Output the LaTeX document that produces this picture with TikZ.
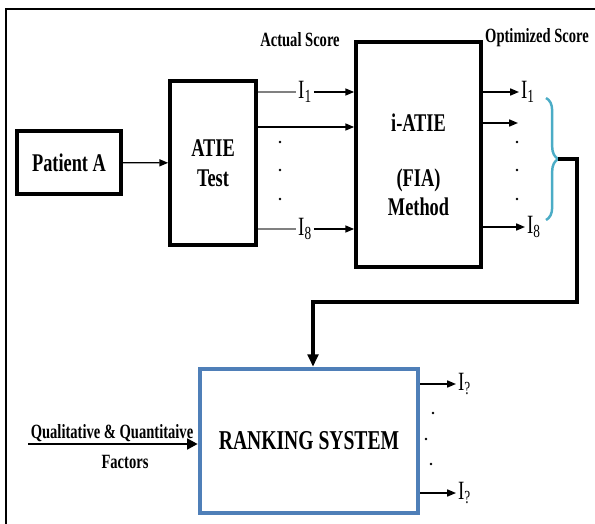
\documentclass[tikz,border=0pt]{standalone}
\usepackage{fontspec}
\usepackage{graphicx}
\setmainfont{Liberation Serif}
\newcommand{\cnd}[1]{\scalebox{0.72}[1]{#1}}
\usetikzlibrary{arrows.meta,positioning,calc,decorations.pathreplacing}
\definecolor{rankblue}{HTML}{4F7FB8}
\definecolor{bracecol}{HTML}{4BACC6}

\begin{document}
\begin{tikzpicture}[x=0.02cm,y=-0.02cm,
  blk/.style={draw,line width=2.1pt,font=\fontsize{14.5}{17}\selectfont\bfseries,align=center,inner sep=0pt},
  lbl/.style={font=\fontsize{11.5}{13}\selectfont\bfseries,inner sep=1pt},
  idx/.style={font=\fontsize{15}{16}\selectfont,inner sep=1pt},
  arr/.style={-{Triangle[length=5pt,width=4pt]},line width=0.75pt}]
\useasboundingbox (0,0) rectangle (595,524);
\draw[line width=0.9pt] (6,524) -- (6,9) -- (595,9);

% blocks
\node[blk,minimum width=2.08cm,minimum height=1.26cm] (pat) at (69,162.5) {\cnd{Patient A}};
\node[blk,minimum width=1.72cm,minimum height=3.28cm] (atie) at (213,163) {\cnd{ATIE}\\\cnd{Test}};
\node[blk,minimum width=2.5cm,minimum height=4.5cm] (fia) at (418.5,154.5) {\rule{0pt}{22pt}\cnd{i-ATIE}\\[14pt]\cnd{(FIA)}\\\cnd{Method}};
\node[blk,draw=rankblue,line width=2.6pt,minimum width=4.36cm,minimum height=2.88cm,font=\fontsize{15.5}{18}\selectfont\bfseries] (rank) at (309,441) {\cnd{RANKING SYSTEM}};

\node[lbl] (act) at (300,40) {\cnd{Actual Score}};
\node[lbl] (opt) at (537,38) {\cnd{Optimized Score}};

\draw[arr] (pat) -- (atie);

% actual scores
\node[idx] (in1) at (305,92) {\cnd{I\textsubscript{1}}};
\node[idx] (in8) at (305,229) {\cnd{I\textsubscript{8}}};
\coordinate (mid) at (300,127);
\draw[gray,line width=0.75pt] (atie.east |- in1) -- (in1.west);
\draw[arr] (in1.east) -- (fia.west |- in1);
\draw[arr] (atie.east |- mid) -- (fia.west |- mid);
\draw[gray,line width=0.75pt] (atie.east |- in8) -- (in8.west);
\draw[arr] (in8.east) -- (fia.west |- in8);
\foreach \y in {142,170,199} \fill (280,\y) circle (0.8pt);

% optimized scores
\node[idx,anchor=west] (out1) at (519,92) {\cnd{I\textsubscript{1}}};
\node[idx,anchor=west] (out8) at (525,227) {\cnd{I\textsubscript{8}}};
\coordinate (omid) at (518,123);
\draw[arr] (fia.east |- out1) -- (out1.west);
\draw[arr] (fia.east |- omid) -- (omid);
\draw[arr] (fia.east |- out8) -- (out8.west);
\foreach \y in {142,170,199} \fill (517,\y) circle (0.8pt);

\draw[bracecol,line width=1.4pt,decorate,decoration={brace,amplitude=7pt}] (546,98) -- (546,220);
\coordinate (tip) at (558,159);
\coordinate (turn) at (577,302);
\coordinate (drop) at (313,302);
\draw[-{Triangle[length=7pt,width=6pt]},line width=2.2pt] (tip) -| (turn) -- (drop) -- (drop |- rank.north);

% ranking
\coordinate (qin) at (28,444);
\draw[-{Triangle[length=6pt,width=6pt]},line width=1.6pt] (qin) -- (rank.west |- qin);
\node[lbl] (qtop) at (112,433) {\cnd{Qualitative \& Quantitaive}};
\node[lbl] (qbot) at (125,462) {\cnd{Factors}};

\node[idx,anchor=west] (rq1) at (456,384) {\cnd{I\textsubscript{?}}};
\node[idx,anchor=west] (rq2) at (456,493) {\cnd{I\textsubscript{?}}};
\draw[arr] (rank.east |- rq1) -- (rq1.west);
\draw[arr] (rank.east |- rq2) -- (rq2.west);
\foreach \p in {(433,413),(426,439),(431,464)} \fill \p circle (0.8pt);
\end{tikzpicture}
\end{document}
